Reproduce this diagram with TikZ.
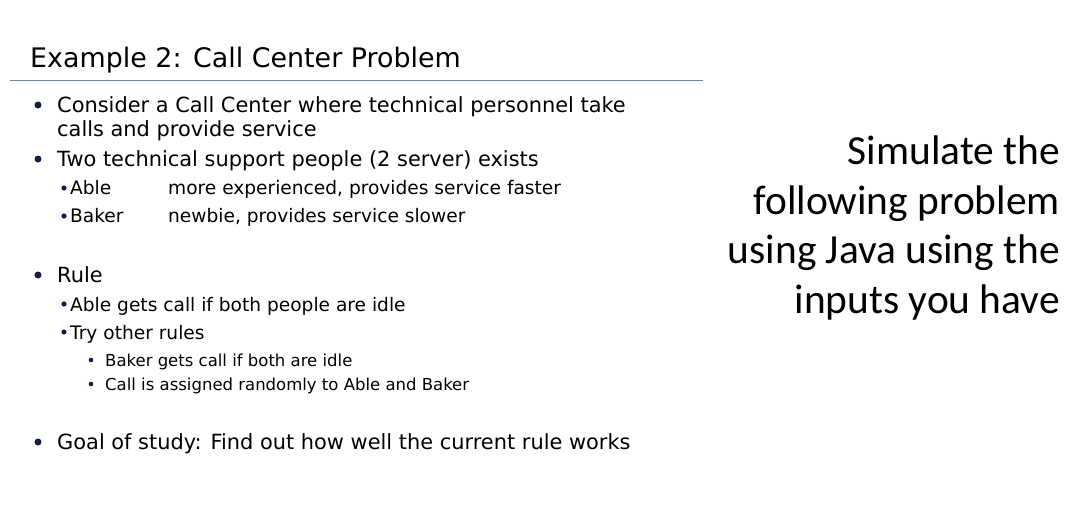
\documentclass[tikz,border=0pt]{standalone}
\usepackage{fontspec}
\setmainfont{DejaVu Sans}
\newfontfamily\calib{Carlito}
\definecolor{navy}{RGB}{20,30,70}
\definecolor{rulec}{RGB}{110,130,160}
\begin{document}
\begin{tikzpicture}[x=1pt,y=-1pt,
  t/.style={anchor=base west,inner sep=0pt,text=black},
  big/.style={t,font=\fontsize{20.9}{24}\selectfont},
  mid/.style={t,font=\fontsize{18.6}{22}\selectfont},
  sml/.style={t,font=\fontsize{16.5}{19}\selectfont},
  rt/.style={anchor=base east,inner sep=0pt,font=\calib\fontsize{41.4}{48}\selectfont}]
\useasboundingbox (0,0) rectangle (1086,515);
\node[t,font=\fontsize{26.9}{31}\selectfont] (title) at (30,67) {Example 2: Call Center Problem};
\draw[rulec,line width=0.8pt] (10,80) -- (703,80);
\foreach \y in {105,159,275,442} \fill[navy] (38,\y) circle (3.5);
\foreach \y in {188,216,304,332} \fill[navy] (64,\y) circle (2.6);
\foreach \y in {360,384} \fill[navy] (91,\y) circle (2.3);
\node[big] (a1) at (57,112) {Consider a Call Center where technical personnel take};
\node[big] (a2) at (57,136) {calls and provide service};
\node[big] (b) at (57,166) {Two technical support people (2 server) exists};
\node[mid] (c1) at (70,194) {Able};
\node[mid] (c2) at (168,194) {more experienced, provides service faster};
\node[mid] (d1) at (70,222) {Baker};
\node[mid] (d2) at (168,222) {newbie, provides service slower};
\node[big] (e) at (57,282) {Rule};
\node[mid] (f) at (70,311) {Able gets call if both people are idle};
\node[mid] (g) at (70,339) {Try other rules};
\node[sml] (h) at (105,366) {Baker gets call if both are idle};
\node[sml] (i) at (105,390) {Call is assigned randomly to Able and Baker};
\node[big] (j) at (57,449) {Goal of study: Find out how well the current rule works};
\node[rt] (r1) at (1060,164) {Simulate the};
\node[rt] (r2) at (1060,214) {following problem};
\node[rt] (r3) at (1060,263) {using Java using the};
\node[rt] (r4) at (1060,313) {inputs you have};
\end{tikzpicture}
\end{document}
